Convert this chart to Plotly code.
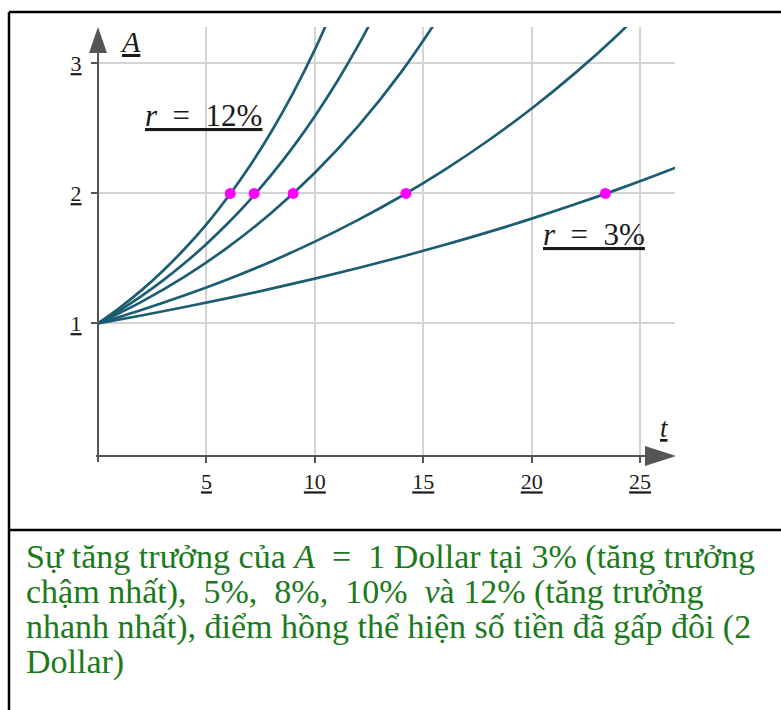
import plotly.graph_objects as go

W, H = 781, 710

# growth curves A(t) (r = 12%, 10%, 8%, 5%, 3%)
t_12 = [0, 1, 2, 3, 4, 5, 6, 7, 8, 9, 10, 11]
a_12 = [1.000, 1.120, 1.254, 1.405, 1.574, 1.762, 1.974, 2.211, 2.476, 2.773, 3.106, 3.479]
t_10 = [0, 1, 2, 3, 4, 5, 6, 7, 8, 9, 10, 11, 12, 13]
a_10 = [1.000, 1.100, 1.210, 1.331, 1.464, 1.611, 1.772, 1.949, 2.144, 2.358, 2.594, 2.853, 3.138, 3.452]
t_8 = [0, 2, 4, 6, 8, 10, 12, 14, 16]
a_8 = [1.000, 1.166, 1.360, 1.587, 1.851, 2.159, 2.518, 2.937, 3.426]
t_5 = [0, 2, 4, 6, 8, 10, 12, 14, 16, 18, 20, 22, 24, 26]
a_5 = [1.000, 1.103, 1.216, 1.340, 1.477, 1.629, 1.796, 1.980, 2.183, 2.407, 2.653, 2.925, 3.225, 3.556]
t_3 = [0, 2, 4, 6, 8, 10, 12, 14, 16, 18, 20, 22, 24, 26, 28]
a_3 = [1.000, 1.061, 1.126, 1.194, 1.267, 1.344, 1.426, 1.513, 1.605, 1.702, 1.806, 1.916, 2.033, 2.157, 2.288]

# doubling points (pink dots)
t_double = [6.1, 7.2, 9.0, 14.2, 23.4]
a_double = [2, 2, 2, 2, 2]

x_ticks = [5, 10, 15, 20, 25]
y_ticks = [1, 2, 3]

caption = [
    "Sự tăng trưởng của <i>A</i>\u2002=\u20021 Dollar tại 3% (tăng trưởng",
    "chậm nhất),\u20025%,\u20028%,\u200210%\u2002<i>v</i>à 12% (tăng trưởng",
    "nhanh nhất), điểm hồng thể hiện số tiền đã gấp đôi (2",
    "Dollar)",
]

CURVE = "#1d5d72"
AXIS = "#555555"
SERIF = "Liberation Serif, Times New Roman, Times, serif"


def px(x):
    return x / W


def py(y):
    return 1 - y / H


fig = go.Figure()

for t, a in [(t_12, a_12), (t_10, a_10), (t_8, a_8), (t_5, a_5), (t_3, a_3)]:
    fig.add_trace(go.Scatter(x=t, y=a, mode="lines",
                             line=dict(color=CURVE, width=2.7, shape="spline"),
                             hoverinfo="skip", showlegend=False))

fig.add_trace(go.Scatter(x=t_double, y=a_double, mode="markers",
                         marker=dict(color="#ff00ff", size=11),
                         showlegend=False))

# frame, axis lines and arrow heads (pixel positions)
shapes = [
    dict(type="line", x0=px(9), x1=px(W + 5), y0=py(12), y1=py(12)),
    dict(type="line", x0=px(9), x1=px(9), y0=py(12), y1=py(H + 5)),
    dict(type="line", x0=px(9), x1=px(W + 5), y0=py(530), y1=py(530)),
]
for s in shapes:
    s.update(xref="paper", yref="paper", line=dict(color="black", width=2.5))

shapes += [
    dict(type="line", xref="paper", yref="paper", x0=px(98), x1=px(98),
         y0=py(45), y1=py(462), line=dict(color=AXIS, width=2)),
    dict(type="line", xref="paper", yref="paper", x0=px(96), x1=px(660),
         y0=py(456), y1=py(456), line=dict(color=AXIS, width=2)),
    dict(type="path", xref="paper", yref="paper",
         path=f"M {px(98)},{py(27)} L {px(89)},{py(53)} L {px(107)},{py(53)} Z",
         fillcolor=AXIS, line=dict(width=0)),
    dict(type="path", xref="paper", yref="paper",
         path=f"M {px(676)},{py(456)} L {px(645)},{py(446)} L {px(645)},{py(466)} Z",
         fillcolor=AXIS, line=dict(width=0)),
]

annotations = [
    dict(x=px(130), y=py(41), text="<u><i>A</i></u>", font=dict(size=30)),
    dict(x=px(664), y=py(428), text="<u><i>t</i></u>", font=dict(size=27)),
    dict(x=px(203), y=py(115), text="<u><i>r</i>\u2002=\u200212%</u>", font=dict(size=31)),
    dict(x=px(594), y=py(234), text="<u><i>r</i>\u2002=\u20023%</u>", font=dict(size=31)),
]
for a in annotations:
    a.update(xref="paper", yref="paper", showarrow=False,
             xanchor="center", yanchor="middle")
    a["font"].update(family=SERIF, color="#1a1a1a")

for i, line in enumerate(caption):
    annotations.append(dict(
        xref="paper", yref="paper", x=px(24), y=py(557 + 35 * i),
        xanchor="left", yanchor="middle", showarrow=False, text=line,
        font=dict(family=SERIF, size=34, color="#1b7a1b")))

fig.update_layout(
    width=W, height=H,
    margin=dict(l=0, r=0, t=0, b=0),
    paper_bgcolor="white", plot_bgcolor="white",
    font=dict(family=SERIF),
    shapes=shapes, annotations=annotations,
    xaxis=dict(
        domain=[px(98), px(675)], range=[0, 26.61],
        tickvals=x_ticks, ticktext=[f"<u>{v}</u>" for v in x_ticks],
        ticks="outside", ticklen=6, tickwidth=2, tickcolor=AXIS,
        showgrid=True, gridcolor="#d4d4d4", gridwidth=1.5,
        zeroline=False, showline=False,
        tickfont=dict(family=SERIF, size=22, color="#1a1a1a"),
    ),
    yaxis=dict(
        domain=[py(456), py(27)], range=[-0.02, 3.28],
        tickvals=y_ticks, ticktext=[f"<u>{v}</u>" for v in y_ticks],
        ticks="outside", ticklen=6, tickwidth=2, tickcolor=AXIS,
        ticklabelstandoff=5,
        showgrid=True, gridcolor="#d4d4d4", gridwidth=1.5,
        zeroline=False, showline=False,
        tickfont=dict(family=SERIF, size=22, color="#1a1a1a"),
    ),
)

# drop the browser's default body margin so pixel positions line up
fig.write_html("out.html", config={"displayModeBar": False},
               post_script="document.body.style.margin='0';")
